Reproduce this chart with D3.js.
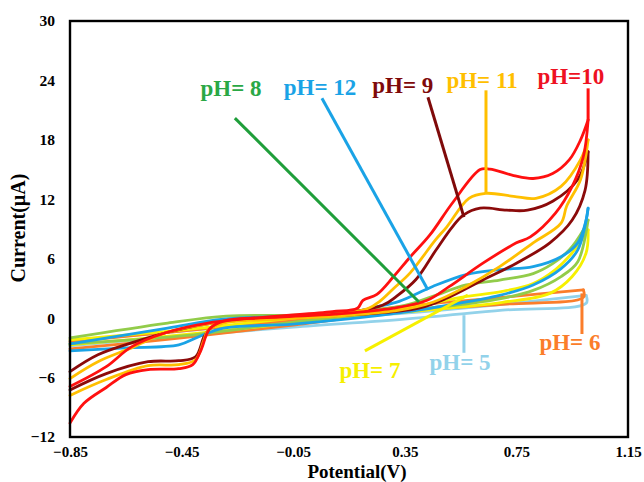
<!DOCTYPE html>
<html>
<head>
<meta charset="utf-8">
<script src="https://cdn.jsdelivr.net/npm/d3@7"></script>
<style>
  body { margin: 0; background: #fff; }
  text { font-family: "Liberation Serif", "Times New Roman", serif; font-weight: bold; }
</style>
</head>
<body>
<svg id="cv" width="644" height="482"></svg>
<script>
// tick labels
var xTicks = [-0.85, -0.45, -0.05, 0.35, 0.75, 1.15];
var yTicks = [-12, -6, 0, 6, 12, 18, 24, 30];

// voltammograms, [potential V, current uA], forward scan then reverse scan
var ph5 = [[-0.85, -2.3], [-0.45, -1.3], [-0.05, -0.3], [0.35, 0.5], [0.7, 1.4], [1.0, 2.3],
           [1.0, 1.5], [0.7, 0.8], [0.35, -0.1], [-0.05, -0.9], [-0.45, -1.8], [-0.85, -2.8]];
var ph6 = [[-0.85, -2.4], [-0.45, -1.3], [-0.05, -0.2], [0.35, 1.2], [0.7, 2.1], [0.99, 2.85],
           [0.99, 2.1], [0.7, 1.4], [0.35, 0.7], [-0.05, -0.7], [-0.45, -2.0], [-0.85, -3.1]];
var ph7 = [[-0.85, -2.2], [-0.45, -1.2], [-0.05, 0.0], [0.35, 1.0], [0.55, 2.1], [0.7, 2.7], [0.81, 3.5],
           [0.89, 4.9], [0.95, 6.6], [1.007, 8.9],
           [1.0, 6.6], [0.95, 4.2], [0.87, 2.5], [0.7, 1.6], [0.35, 0.6], [-0.05, -0.5], [-0.45, -1.7], [-0.85, -2.7]];
var ph8 = [[-0.85, -2.0], [-0.5, -0.5], [-0.29, 0.2], [-0.05, 0.3], [0.2, 0.7], [0.35, 1.3], [0.45, 2.2],
           [0.57, 3.35], [0.69, 3.85], [0.81, 4.5], [0.88, 5.5], [0.94, 6.9], [0.99, 8.9], [1.007, 9.9],
           [0.97, 5.7], [0.91, 4.2], [0.81, 2.8], [0.7, 2.0], [0.5, 1.2], [0.35, 0.8], [-0.05, -0.4],
           [-0.45, -1.8], [-0.85, -2.6]];
var ph12 = [[-0.85, -2.6], [-0.5, -1.0], [-0.3, -0.1], [-0.05, 0.2], [0.2, 0.8], [0.24, 1.1], [0.33, 1.7],
            [0.45, 3.2], [0.57, 4.4], [0.69, 4.9], [0.81, 5.2], [0.91, 6.2], [0.97, 7.6], [1.0, 9.9], [1.007, 11.1],
            [0.97, 6.9], [0.91, 5.0], [0.81, 3.35], [0.69, 2.3], [0.5, 1.3], [0.35, 0.6], [-0.05, -0.6],
            [-0.3, -1.0], [-0.39, -1.9], [-0.46, -2.7], [-0.65, -3.0], [-0.85, -3.3]];
var ph9 = [[-0.85, -5.4], [-0.75, -3.7], [-0.63, -2.5], [-0.51, -1.5], [-0.36, -0.6], [-0.15, 0.0], [0.1, 0.4],
           [0.27, 1.3], [0.32, 2.2], [0.39, 3.9], [0.46, 6.8], [0.52, 9.2], [0.56, 10.4], [0.62, 11.1],
           [0.715, 10.9], [0.79, 10.9], [0.88, 11.8], [0.97, 14.0], [1.007, 16.8],
           [0.996, 12.9], [0.95, 9.9], [0.87, 7.6], [0.75, 5.55], [0.63, 3.85], [0.5, 2.0], [0.4, 1.0],
           [0.2, 0.4], [-0.1, 0.0], [-0.3, -0.4], [-0.35, -1.1], [-0.37, -1.9], [-0.40, -3.9], [-0.46, -4.3],
           [-0.57, -4.4], [-0.72, -5.6], [-0.85, -7.25]];
var ph11 = [[-0.85, -6.1], [-0.75, -4.4], [-0.63, -3.0], [-0.51, -1.5], [-0.36, -0.6], [-0.15, 0.0], [0.1, 0.4],
            [0.22, 1.0], [0.26, 1.7], [0.31, 3.0], [0.37, 4.6], [0.46, 7.9], [0.5, 9.2], [0.58, 12.1],
            [0.64, 12.6], [0.74, 12.3], [0.82, 12.1], [0.91, 13.3], [0.98, 16.0], [1.007, 18.0],
            [0.98, 14.0], [0.93, 11.3], [0.91, 9.6], [0.81, 7.6], [0.69, 5.2], [0.57, 3.2], [0.45, 1.6],
            [0.33, 0.8], [0.1, 0.2], [-0.1, -0.1], [-0.3, -0.5], [-0.355, -1.2], [-0.37, -2.2], [-0.40, -4.2],
            [-0.46, -4.7], [-0.57, -4.8], [-0.72, -6.2], [-0.85, -7.8]];
var ph10 = [[-0.85, -6.9], [-0.72, -4.9], [-0.63, -2.9], [-0.51, -1.5], [-0.355, -0.5], [-0.15, 0.1],
            [0.09, 0.65], [0.18, 1.0], [0.2, 1.8], [0.25, 2.4], [0.31, 4.2], [0.37, 6.2], [0.44, 8.4],
            [0.52, 11.6], [0.62, 15.0], [0.655, 15.05], [0.74, 14.4], [0.81, 14.1], [0.88, 14.6],
            [0.94, 16.0], [0.98, 18.0], [1.007, 20.0],
            [0.99, 16.3], [0.95, 13.3], [0.89, 10.6], [0.80, 8.2], [0.75, 7.6], [0.63, 5.55], [0.51, 3.2],
            [0.43, 1.8], [0.31, 1.0], [0.1, 0.4], [-0.1, 0.1], [-0.3, -0.3], [-0.35, -1.1], [-0.38, -3.2],
            [-0.41, -4.7], [-0.46, -5.1], [-0.57, -5.2], [-0.65, -5.7], [-0.72, -7.0], [-0.80, -8.6], [-0.85, -10.6]];

// annotation text, anchor and leader line ends, in data units
var labels = ["pH= 5", "pH= 6", "pH= 7", "pH= 8", "pH= 12", "pH= 9", "pH= 11", "pH=10"];
var labelPos = [[0.548, -4.5], [0.942, -2.5], [0.225, -5.3], [-0.273, 23.2], [0.046, 23.3], [0.343, 23.5], [0.627, 24.0], [0.945, 24.4]];
var leaders = [[0.562, -3.5, 0.562, 0.3], [0.985, -1.6, 0.985, 2.5], [0.207, -3.3, 0.576, 2.34],
               [-0.259, 20.2, 0.401, 1.63], [0.053, 22.2, 0.433, 2.84], [0.433, 22.3, 0.562, 10.2],
               [0.641, 23.0, 0.641, 12.6], [1.007, 23.2, 1.007, 20.0]];

var series = [ph5, ph6, ph7, ph8, ph12, ph9, ph11, ph10];
var curveColors = ["#92d2ea", "#fb7d2a", "#f6f000", "#92cc4a", "#1aa3e6", "#8b0a0a", "#ffbf00", "#ff1010"];
var textColors = ["#92d2ea", "#fb7d2a", "#f6ef00", "#2aa845", "#1aa3e6", "#7f0a0a", "#ffbf00", "#ee1122"];
var leaderColors = ["#92d2ea", "#fb7d2a", "#f6f000", "#1f9e3a", "#1aa3e6", "#7f0a0a", "#ffbf00", "#ff1010"];

var svg = d3.select("#cv");

var x = d3.scaleLinear().domain([-0.85, 1.15]).range([70, 628]);
var y = d3.scaleLinear().domain([-12, 30]).range([437, 21]);

var line = d3.line()
    .x(function (d) { return x(d[0]); })
    .y(function (d) { return y(d[1]); })
    .curve(d3.curveCatmullRom.alpha(0.5));

// split each scan at the switching potential so the turn stays sharp
var branches = [];
series.forEach(function (s, i) {
    var k = d3.maxIndex(s, function (d) { return d[0]; });
    branches.push({ pts: s.slice(0, k + 1), c: curveColors[i] });
    branches.push({ pts: s.slice(k), c: curveColors[i] });
});

svg.selectAll(".cv")
    .data(branches)
    .enter().append("path")
    .attr("class", "cv")
    .attr("d", function (d) { return line(d.pts); })
    .attr("fill", "none")
    .attr("stroke", function (d) { return d.c; })
    .attr("stroke-width", 2.8)
    .attr("stroke-linejoin", "round")
    .attr("stroke-linecap", "round");

svg.selectAll(".leader")
    .data(leaders)
    .enter().append("line")
    .attr("class", "leader")
    .attr("x1", function (d) { return x(d[0]); })
    .attr("y1", function (d) { return y(d[1]); })
    .attr("x2", function (d) { return x(d[2]); })
    .attr("y2", function (d) { return y(d[3]); })
    .attr("stroke", function (d, i) { return leaderColors[i]; })
    .attr("stroke-width", 3);

svg.selectAll(".lab")
    .data(labels)
    .enter().append("text")
    .attr("class", "lab")
    .attr("x", function (d, i) { return x(labelPos[i][0]); })
    .attr("y", function (d, i) { return y(labelPos[i][1]); })
    .attr("text-anchor", "middle")
    .attr("dominant-baseline", "central")
    .attr("fill", function (d, i) { return textColors[i]; })
    .style("font-size", "23px")
    .text(function (d) { return d; });

// frame
svg.append("rect")
    .attr("x", x(-0.85))
    .attr("y", y(30))
    .attr("width", x(1.15) - x(-0.85))
    .attr("height", y(-12) - y(30))
    .attr("fill", "none")
    .attr("stroke", "#000")
    .attr("stroke-width", 2.4);

var xAxis = svg.append("g")
    .attr("transform", "translate(0," + y(-12) + ")")
    .call(d3.axisBottom(x).tickValues(xTicks).tickSize(0).tickPadding(9).tickFormat(d3.format(".2f")));
xAxis.select(".domain").remove();
xAxis.selectAll("text").style("font-size", "15px").attr("fill", "#000");

var yAxis = svg.append("g")
    .attr("transform", "translate(" + x(-0.85) + ",0)")
    .call(d3.axisLeft(y).tickValues(yTicks).tickSize(0).tickPadding(15).tickFormat(d3.format("d")));
yAxis.select(".domain").remove();
yAxis.selectAll("text").style("font-size", "15.5px").attr("fill", "#000");

svg.append("text")
    .attr("x", 357)
    .attr("y", 471)
    .attr("text-anchor", "middle")
    .attr("dominant-baseline", "central")
    .style("font-size", "19px")
    .text("Potential(V)");

svg.append("text")
    .attr("transform", "translate(18,228) rotate(-90)")
    .attr("text-anchor", "middle")
    .attr("dominant-baseline", "central")
    .style("font-size", "20px")
    .text("Current(µA)");
</script>
</body>
</html>
